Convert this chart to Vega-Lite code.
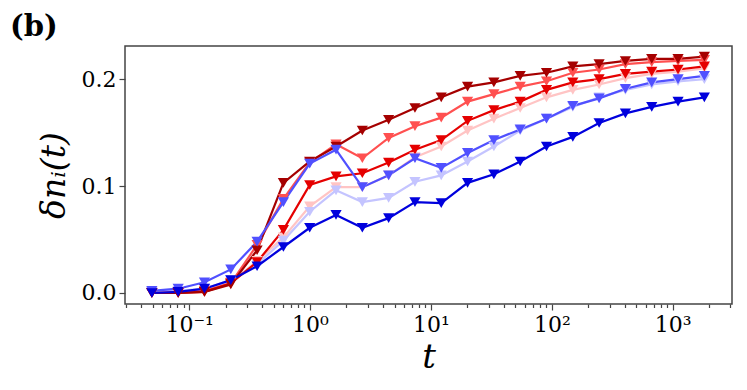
{
  "$schema": "https://vega.github.io/schema/vega-lite/v6.json",
  "width": 607,
  "height": 258,
  "autosize": {"type": "none"},
  "padding": {"left": 125, "top": 46, "right": 15, "bottom": 86},
  "background": "white",
  "title": {"text": "(b)", "anchor": "start", "frame": "group", "dx": -115, "offset": 4, "font": "DejaVu Serif", "fontSize": 29, "fontWeight": "bold", "color": "black"},
  "config": {
    "view": {"stroke": "#444", "strokeWidth": 1.5},
    "axis": {"grid": false, "domain": false, "tickColor": "#444", "tickWidth": 1.2, "labelColor": "black", "titleColor": "black", "labelFont": "DejaVu Serif", "labelFontSize": 22, "titleFont": "DejaVu Serif", "titleFontWeight": "normal", "titleFontStyle": "italic"}
  },
  "data": {"values": [
    {"s":"a","t":0.0492,"v":0.001},{"s":"a","t":0.0812,"v":0.001},{"s":"a","t":0.134,"v":0.003},{"s":"a","t":0.2212,"v":0.010},{"s":"a","t":0.365,"v":0.030},{"s":"a","t":0.6024,"v":0.052},{"s":"a","t":0.9942,"v":0.081},{"s":"a","t":1.641,"v":0.099},{"s":"a","t":2.708,"v":0.099},{"s":"a","t":4.469,"v":0.110},{"s":"a","t":7.376,"v":0.127},{"s":"a","t":12.17,"v":0.137},{"s":"a","t":20.09,"v":0.152},{"s":"a","t":33.16,"v":0.163},{"s":"a","t":54.73,"v":0.173},{"s":"a","t":90.32,"v":0.183},{"s":"a","t":149.1,"v":0.190},{"s":"a","t":246.0,"v":0.195},{"s":"a","t":406.0,"v":0.201},{"s":"a","t":670.1,"v":0.205},{"s":"a","t":1106,"v":0.207},{"s":"a","t":1825,"v":0.210},
    {"s":"b","t":0.0492,"v":0.001},{"s":"b","t":0.0812,"v":0.002},{"s":"b","t":0.134,"v":0.004},{"s":"b","t":0.2212,"v":0.012},{"s":"b","t":0.365,"v":0.027},{"s":"b","t":0.6024,"v":0.049},{"s":"b","t":0.9942,"v":0.076},{"s":"b","t":1.641,"v":0.096},{"s":"b","t":2.708,"v":0.085},{"s":"b","t":4.469,"v":0.089},{"s":"b","t":7.376,"v":0.104},{"s":"b","t":12.17,"v":0.110},{"s":"b","t":20.09,"v":0.123},{"s":"b","t":33.16,"v":0.137},{"s":"b","t":54.73,"v":0.152},{"s":"b","t":90.32,"v":0.163},{"s":"b","t":149.1,"v":0.174},{"s":"b","t":246.0,"v":0.183},{"s":"b","t":406.0,"v":0.190},{"s":"b","t":670.1,"v":0.195},{"s":"b","t":1106,"v":0.198},{"s":"b","t":1825,"v":0.200},
    {"s":"c","t":0.0492,"v":0.000},{"s":"c","t":0.0812,"v":0.001},{"s":"c","t":0.134,"v":0.002},{"s":"c","t":0.2212,"v":0.009},{"s":"c","t":0.365,"v":0.045},{"s":"c","t":0.6024,"v":0.088},{"s":"c","t":0.9942,"v":0.122},{"s":"c","t":1.641,"v":0.139},{"s":"c","t":2.708,"v":0.126},{"s":"c","t":4.469,"v":0.145},{"s":"c","t":7.376,"v":0.156},{"s":"c","t":12.17,"v":0.164},{"s":"c","t":20.09,"v":0.179},{"s":"c","t":33.16,"v":0.186},{"s":"c","t":54.73,"v":0.193},{"s":"c","t":90.32,"v":0.198},{"s":"c","t":149.1,"v":0.206},{"s":"c","t":246.0,"v":0.209},{"s":"c","t":406.0,"v":0.214},{"s":"c","t":670.1,"v":0.216},{"s":"c","t":1106,"v":0.217},{"s":"c","t":1825,"v":0.218},
    {"s":"d","t":0.0492,"v":0.000},{"s":"d","t":0.0812,"v":0.000},{"s":"d","t":0.134,"v":0.001},{"s":"d","t":0.2212,"v":0.009},{"s":"d","t":0.365,"v":0.029},{"s":"d","t":0.6024,"v":0.059},{"s":"d","t":0.9942,"v":0.101},{"s":"d","t":1.641,"v":0.109},{"s":"d","t":2.708,"v":0.112},{"s":"d","t":4.469,"v":0.122},{"s":"d","t":7.376,"v":0.134},{"s":"d","t":12.17,"v":0.143},{"s":"d","t":20.09,"v":0.161},{"s":"d","t":33.16,"v":0.171},{"s":"d","t":54.73,"v":0.179},{"s":"d","t":90.32,"v":0.190},{"s":"d","t":149.1,"v":0.197},{"s":"d","t":246.0,"v":0.200},{"s":"d","t":406.0,"v":0.205},{"s":"d","t":670.1,"v":0.207},{"s":"d","t":1106,"v":0.209},{"s":"d","t":1825,"v":0.212},
    {"s":"e","t":0.0492,"v":0.000},{"s":"e","t":0.0812,"v":0.000},{"s":"e","t":0.134,"v":0.001},{"s":"e","t":0.2212,"v":0.008},{"s":"e","t":0.365,"v":0.040},{"s":"e","t":0.6024,"v":0.103},{"s":"e","t":0.9942,"v":0.123},{"s":"e","t":1.641,"v":0.137},{"s":"e","t":2.708,"v":0.152},{"s":"e","t":4.469,"v":0.162},{"s":"e","t":7.376,"v":0.173},{"s":"e","t":12.17,"v":0.183},{"s":"e","t":20.09,"v":0.193},{"s":"e","t":33.16,"v":0.197},{"s":"e","t":54.73,"v":0.203},{"s":"e","t":90.32,"v":0.206},{"s":"e","t":149.1,"v":0.212},{"s":"e","t":246.0,"v":0.214},{"s":"e","t":406.0,"v":0.217},{"s":"e","t":670.1,"v":0.219},{"s":"e","t":1106,"v":0.219},{"s":"e","t":1825,"v":0.221},
    {"s":"f","t":0.0492,"v":0.002},{"s":"f","t":0.0812,"v":0.004},{"s":"f","t":0.134,"v":0.010},{"s":"f","t":0.2212,"v":0.022},{"s":"f","t":0.365,"v":0.048},{"s":"f","t":0.6024,"v":0.085},{"s":"f","t":0.9942,"v":0.121},{"s":"f","t":1.641,"v":0.134},{"s":"f","t":2.708,"v":0.099},{"s":"f","t":4.469,"v":0.110},{"s":"f","t":7.376,"v":0.126},{"s":"f","t":12.17,"v":0.117},{"s":"f","t":20.09,"v":0.131},{"s":"f","t":33.16,"v":0.143},{"s":"f","t":54.73,"v":0.153},{"s":"f","t":90.32,"v":0.163},{"s":"f","t":149.1,"v":0.175},{"s":"f","t":246.0,"v":0.182},{"s":"f","t":406.0,"v":0.191},{"s":"f","t":670.1,"v":0.197},{"s":"f","t":1106,"v":0.200},{"s":"f","t":1825,"v":0.203},
    {"s":"g","t":0.0492,"v":0.000},{"s":"g","t":0.0812,"v":0.001},{"s":"g","t":0.134,"v":0.004},{"s":"g","t":0.2212,"v":0.012},{"s":"g","t":0.365,"v":0.025},{"s":"g","t":0.6024,"v":0.043},{"s":"g","t":0.9942,"v":0.061},{"s":"g","t":1.641,"v":0.073},{"s":"g","t":2.708,"v":0.061},{"s":"g","t":4.469,"v":0.070},{"s":"g","t":7.376,"v":0.085},{"s":"g","t":12.17,"v":0.084},{"s":"g","t":20.09,"v":0.103},{"s":"g","t":33.16,"v":0.111},{"s":"g","t":54.73,"v":0.123},{"s":"g","t":90.32,"v":0.137},{"s":"g","t":149.1,"v":0.146},{"s":"g","t":246.0,"v":0.159},{"s":"g","t":406.0,"v":0.168},{"s":"g","t":670.1,"v":0.174},{"s":"g","t":1106,"v":0.179},{"s":"g","t":1825,"v":0.183}
  ]},
  "encoding": {
    "x": {"field": "t", "type": "quantitative",
      "scale": {"type": "log", "domain": [0.0295, 3090], "nice": false},
      "axis": {
        "title": "t", "titleFontSize": 34, "titlePadding": 5,
        "values": [0.03,0.04,0.05,0.06,0.07,0.08,0.09,0.1,0.2,0.3,0.4,0.5,0.6,0.7,0.8,0.9,1,2,3,4,5,6,7,8,9,10,20,30,40,50,60,70,80,90,100,200,300,400,500,600,700,800,900,1000,2000,3000],
        "labelExpr": "datum.value == 0.1 ? '10⁻¹' : datum.value == 1 ? '10⁰' : datum.value == 10 ? '10¹' : datum.value == 100 ? '10²' : datum.value == 1000 ? '10³' : ''",
        "tickSize": {"condition": {"test": "datum.value == 0.1 || datum.value == 1 || datum.value == 10 || datum.value == 100 || datum.value == 1000", "value": 6}, "value": 3.5},
        "labelPadding": 4, "labelFlush": false, "labelOverlap": false
      }
    },
    "y": {"field": "v", "type": "quantitative",
      "scale": {"domain": [-0.0103, 0.231], "nice": false, "zero": false},
      "axis": {"title": "δnᵢ(t)", "titleFontSize": 33, "titlePadding": 10, "values": [0, 0.1, 0.2], "format": ".1f", "tickSize": 6, "labelPadding": 3}
    },
    "color": {"field": "s", "type": "nominal", "legend": null,
      "scale": {"domain": ["a","b","c","d","e","f","g"], "range": ["#ffc4c4","#c4c4ff","#ff5050","#e50000","#a50000","#5050ff","#0000dd"]}}
  },
  "layer": [
    {"mark": {"type": "line", "strokeWidth": 2.2, "clip": true}},
    {"mark": {"type": "point", "shape": "triangle-down", "filled": true, "size": 125, "opacity": 1}}
  ]
}
